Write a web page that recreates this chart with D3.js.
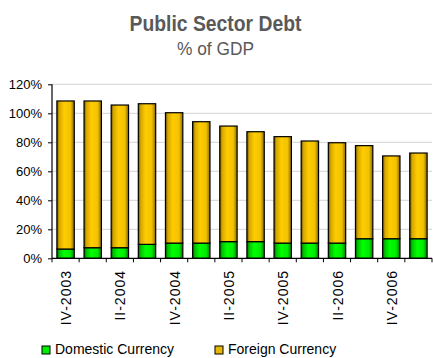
<!DOCTYPE html>
<html>
<head>
<meta charset="utf-8">
<script src="https://cdn.jsdelivr.net/npm/d3@7"></script>
<style>
  html, body { margin: 0; padding: 0; background: #ffffff; }
  svg { display: block; }
</style>
</head>
<body>
<svg id="chart" width="433" height="358"></svg>
<script>
const categories = ["IV-2003","I-2004","II-2004","III-2004","IV-2004","I-2005","II-2005","III-2005","IV-2005","I-2006","II-2006","III-2006","IV-2006","I-2007"];
const domestic = [6.4, 7.3, 7.3, 9.6, 10.5, 10.5, 11.5, 11.5, 10.5, 10.5, 10.5, 13.5, 13.5, 13.5];
const foreign  = [102.1, 101.2, 98.4, 97.0, 89.9, 83.7, 79.7, 75.8, 73.4, 70.4, 69.2, 64.2, 57.1, 59.1];
const yTicks = [0, 20, 40, 60, 80, 100, 120];
const seriesNames = ["Domestic Currency", "Foreign Currency"];

const svg = d3.select("#chart");
const plotLeft = 52, plotRight = 432, plotTop = 84.3, plotBottom = 258.3;

const x = d3.scaleBand().domain(categories).range([plotLeft, plotRight]).paddingInner(0.36).paddingOuter(0.18);
const y = d3.scaleLinear().domain([0, 120]).range([plotBottom, plotTop]);

// gradients
const defs = svg.append("defs");
function grad(id, stops) {
  const g = defs.append("linearGradient").attr("id", id).attr("x1", "0%").attr("x2", "100%").attr("y1", "0%").attr("y2", "0%");
  stops.forEach(s => g.append("stop").attr("offset", s[0]).attr("stop-color", s[1]));
}
grad("gForeign", [["0%", "#6e5200"], ["14%", "#d6a800"], ["42%", "#ffcc00"], ["78%", "#f2c200"], ["100%", "#8a6800"]]);
grad("gDomestic", [["0%", "#005c00"], ["14%", "#00c400"], ["42%", "#00ff00"], ["78%", "#00ea00"], ["100%", "#007a00"]]);

// title
svg.append("text").attr("x", 215.5).attr("y", 31.3).attr("text-anchor", "middle")
  .attr("font-family", "'Liberation Sans', Arial, sans-serif")
  .attr("font-weight", "bold").attr("font-size", 22.5).attr("fill", "#595959")
  .attr("textLength", 172).attr("lengthAdjust", "spacingAndGlyphs").text("Public Sector Debt");
svg.append("text").attr("x", 215.5).attr("y", 55).attr("text-anchor", "middle")
  .attr("font-family", "'Liberation Sans', Arial, sans-serif")
  .attr("font-size", 19).attr("fill", "#595959")
  .attr("textLength", 77).attr("lengthAdjust", "spacingAndGlyphs").text("% of GDP");

// gridlines
svg.append("g").selectAll("line").data(yTicks.filter(d => d > 0)).join("line")
  .attr("x1", plotLeft).attr("x2", plotRight).attr("y1", d => y(d)).attr("y2", d => y(d))
  .attr("stroke", "#dcdcdc").attr("stroke-width", 1.3);

// bars
const table = categories.map((c, i) => ({ cat: c, dom: domestic[i], for: foreign[i] }));
const stacked = d3.stack().keys(["dom", "for"])(table);
const fills = ["url(#gDomestic)", "url(#gForeign)"];
svg.append("g").selectAll("g").data(stacked).join("g")
  .attr("fill", (d, i) => fills[i])
  .selectAll("rect").data(d => d).join("rect")
  .attr("x", d => x(d.data.cat)).attr("width", x.bandwidth())
  .attr("y", d => y(d[1])).attr("height", d => y(d[0]) - y(d[1]))
  .attr("stroke", "#000").attr("stroke-width", 1.2);

// y axis
const yAxis = d3.axisLeft(y).tickValues(yTicks).tickFormat(d => d + "%").tickSize(4).tickPadding(6);
const gy = svg.append("g").attr("transform", `translate(${plotLeft},0)`).call(yAxis);
gy.select(".domain").attr("stroke", "#000").attr("stroke-width", 1.2).attr("d", `M0,${plotTop}V${plotBottom}`);
gy.selectAll(".tick line").attr("stroke", "#000");
gy.selectAll("text").attr("font-family", "'Liberation Sans', Arial, sans-serif").attr("font-size", 13).attr("fill", "#000");

// x axis
const step = x.step();
svg.append("line").attr("x1", plotLeft).attr("x2", plotRight).attr("y1", plotBottom).attr("y2", plotBottom).attr("stroke", "#000").attr("stroke-width", 1.2);
const boundaries = categories.map(c => x(c) - (step - x.bandwidth()) / 2).concat([plotRight]);
svg.append("g").selectAll("line").data(boundaries).join("line")
  .attr("x1", d => d).attr("x2", d => d).attr("y1", plotBottom).attr("y2", plotBottom + 4)
  .attr("stroke", "#000").attr("stroke-width", 1);

svg.append("g").selectAll("text").data(categories.filter((c, i) => i % 2 === 0)).join("text")
  .attr("transform", d => `translate(${x(d) + x.bandwidth() / 2 + 5.5},270) rotate(-90)`)
  .attr("text-anchor", "end")
  .attr("font-family", "'Liberation Sans', Arial, sans-serif").attr("font-size", 14)
  .attr("letter-spacing", 1).attr("fill", "#000")
  .text(d => d);

// legend
const legend = svg.append("g");
const legX = [42, 215];
const legFill = ["#00ee00", "#e8b800"];
seriesNames.forEach((name, i) => {
  legend.append("rect").attr("x", legX[i]).attr("y", 346).attr("width", 8).attr("height", 8)
    .attr("fill", legFill[i]).attr("stroke", "#000").attr("stroke-width", 1);
  legend.append("text").attr("x", legX[i] + 13).attr("y", 354)
    .attr("font-family", "'Liberation Sans', Arial, sans-serif").attr("font-size", 14).attr("fill", "#000")
    .text(name);
});
</script>
</body>
</html>
